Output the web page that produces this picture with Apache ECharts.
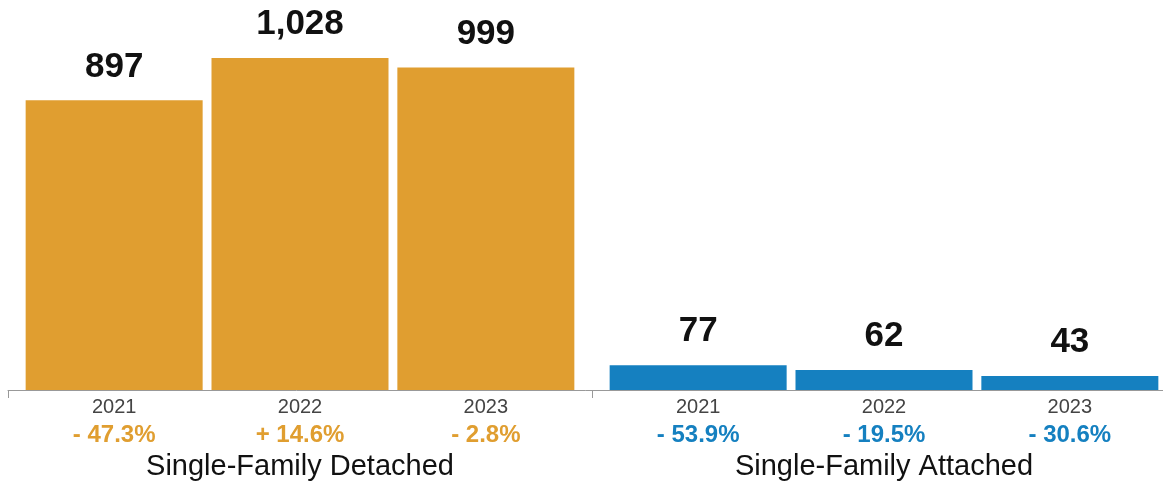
<!DOCTYPE html>
<html>
<head>
<meta charset="utf-8">
<script src="https://cdn.jsdelivr.net/npm/echarts@6/dist/echarts.min.js"></script>
<style>
  html, body { margin: 0; padding: 0; background: #fff; }
  #chart { width: 1163px; height: 485px; }
</style>
</head>
<body>
<div id="chart"></div>
<script>
// Housing types and the years shown within each
const groups = ['Single-Family Detached', 'Single-Family Attached'];
const years = ['2021', '2022', '2023'];

// Sales counts per year
const detached = [897, 1028, 999];
const attached = [77, 62, 43];

// Year-over-year change labels
const detachedChange = ['- 47.3%', '+ 14.6%', '- 2.8%'];
const attachedChange = ['- 53.9%', '- 19.5%', '- 30.6%'];

const ORANGE = '#E09E30';
const BLUE = '#1580C0';
const FONT = '"Liberation Sans", Arial, Helvetica, sans-serif';

const chart = echarts.init(document.getElementById('chart'));

const valueSeries = years.map((yr, i) => ({
  name: yr,
  type: 'bar',
  xAxisIndex: 0,
  barWidth: 177,
  barGap: '5%',
  data: [
    { value: detached[i], itemStyle: { color: ORANGE } },
    { value: attached[i], itemStyle: { color: BLUE } }
  ],
  label: {
    show: true,
    position: 'top',
    distance: 16,
    fontFamily: FONT,
    fontSize: 35,
    fontWeight: 'bold',
    color: '#111',
    formatter: p => p.value.toLocaleString('en-US')
  }
}));

// Transparent twins carrying the year and change labels beneath each bar
const captionSeries = years.map((yr, i) => ({
  name: yr + ' caption',
  type: 'bar',
  xAxisIndex: 1,
  barWidth: 177,
  barGap: '5%',
  silent: true,
  itemStyle: { color: 'rgba(0,0,0,0)' },
  data: [
    { value: detached[i], change: detachedChange[i], tone: 'o' },
    { value: attached[i], change: attachedChange[i], tone: 'b' }
  ],
  label: {
    show: true,
    position: 'bottom',
    distance: 4,
    fontFamily: FONT,
    formatter: p => '{y|' + yr + '}\n{' + p.data.tone + '|' + p.data.change + '}',
    rich: {
      y: { fontFamily: FONT, fontSize: 20, color: '#444', lineHeight: 26, align: 'center' },
      o: { fontFamily: FONT, fontSize: 24, fontWeight: 'bold', color: ORANGE, lineHeight: 30, align: 'center' },
      b: { fontFamily: FONT, fontSize: 24, fontWeight: 'bold', color: BLUE, lineHeight: 30, align: 'center' }
    }
  }
}));

chart.setOption({
  animation: false,
  // the plot runs past the right edge so both groups share one width
  grid: {
    left: 8, width: 1168, top: 2.5, bottom: 95,
    containLabel: false, outerBoundsMode: 'none'
  },
  xAxis: [
    {
      type: 'category',
      data: groups,
      axisLine: { show: true, lineStyle: { color: '#999', width: 1 } },
      axisTick: { show: true, alignWithLabel: false, length: 8, lineStyle: { color: '#999' } },
      axisLabel: { margin: 62, fontFamily: FONT, fontSize: 29, color: '#111' },
      z: 10
    },
    {
      type: 'category',
      data: groups,
      show: false
    }
  ],
  yAxis: { type: 'value', min: 0, max: 1200, show: false },
  series: valueSeries.concat(captionSeries)
});
</script>
</body>
</html>
